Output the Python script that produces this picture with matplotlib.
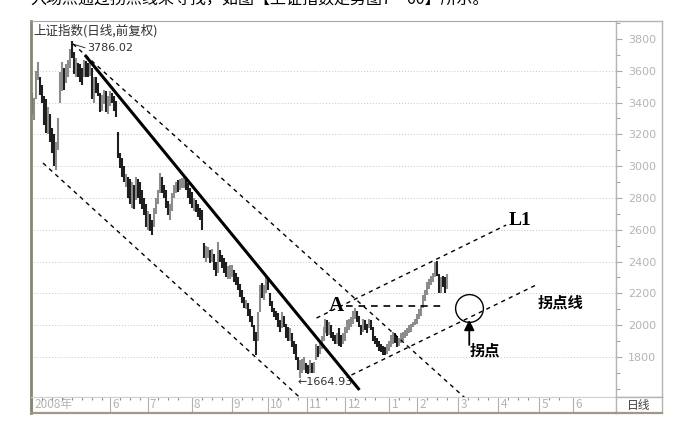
import numpy as np
import matplotlib
matplotlib.use("Agg")
import matplotlib.pyplot as plt
import matplotlib.transforms as mtransforms
from matplotlib.ticker import FixedLocator, MultipleLocator

# ---------------- data ----------------
# daily bars, trading-day index 0 = first bar of the chart (April 2008)
bar_high = [
    3460, 3430, 3600, 3655, 3560, 3510, 3440, 3420, 3370, 3330,
    3240, 3200, 3150, 3300, 3590, 3655, 3620, 3640, 3670, 3740,
    3786, 3720, 3680, 3650, 3640, 3620, 3670, 3660, 3650, 3660,
    3620, 3560, 3560, 3520, 3460, 3450, 3480, 3470, 3440, 3470,
    3460, 3440, 3410, 3215, 3080, 3050, 3000, 2950, 2930, 2920,
    2900, 2880, 2930, 2920, 2900, 2850, 2800, 2760, 2720, 2700,
    2660, 2740, 2800, 2850, 2955, 2930, 2880, 2850, 2780, 2760,
    2830, 2880, 2900, 2910, 2920, 2925, 2935, 2930, 2895, 2860,
    2840, 2800, 2790, 2760, 2740, 2725, 2520, 2500, 2490, 2470,
    2480, 2450, 2400, 2523, 2470, 2440, 2420, 2400, 2370, 2380,
    2380, 2350, 2330, 2300, 2260, 2220, 2180, 2160, 2140, 2100,
    2060, 2000, 1960, 2080, 2250, 2265, 2250, 2316, 2300, 2200,
    2150, 2110, 2090, 2075, 2030, 2080, 2060, 2010, 1990, 1980,
    1950, 1900, 1880, 1800, 1780, 1790, 1800, 1760, 1750, 1780,
    1760, 1770, 1880, 1870, 1890, 1930, 1990, 2040, 2030, 2020,
    2000, 1960, 1940, 1950, 1980, 1940, 1950, 1990, 2030, 2040,
    2050, 2090, 2108, 2090, 2060, 2000, 2040, 2030, 2010, 2040,
    2030, 1990, 1930, 1920, 1900, 1880, 1870, 1860, 1880, 1900,
    1940, 1960, 1950, 1930, 1920, 1950, 1960, 1970, 1980, 2000,
    2010, 2020, 2040, 2070, 2100, 2130, 2190, 2220, 2270, 2290,
    2310, 2330, 2400, 2402, 2320, 2300, 2310, 2300, 2320,
]
bar_low = [
    3330, 3290, 3420, 3545, 3450, 3400, 3260, 3210, 3200, 3150,
    3080, 3000, 2976, 3100, 3400, 3470, 3480, 3520, 3560, 3620,
    3680, 3580, 3560, 3560, 3530, 3510, 3560, 3560, 3560, 3570,
    3420, 3400, 3460, 3440, 3340, 3350, 3390, 3340, 3330, 3380,
    3400, 3350, 3310, 3050, 2990, 2930, 2900, 2870, 2800, 2760,
    2740, 2730, 2790, 2800, 2760, 2730, 2690, 2620, 2600, 2590,
    2567, 2620, 2700, 2760, 2830, 2830, 2800, 2740, 2690, 2660,
    2720, 2800, 2830, 2840, 2850, 2860, 2860, 2850, 2800, 2760,
    2740, 2720, 2710, 2680, 2660, 2600, 2420, 2400, 2420, 2390,
    2400, 2350, 2310, 2330, 2400, 2360, 2330, 2300, 2290, 2290,
    2300, 2270, 2250, 2220, 2180, 2140, 2110, 2100, 2060, 2020,
    1990, 1900, 1812, 1900, 2080, 2170, 2160, 2200, 2220, 2120,
    2080, 2050, 2030, 1990, 1960, 1980, 1990, 1920, 1900, 1900,
    1860, 1820, 1780, 1720, 1665, 1700, 1720, 1700, 1690, 1700,
    1700, 1700, 1780, 1800, 1820, 1850, 1900, 1950, 1930, 1940,
    1920, 1900, 1880, 1880, 1870, 1860, 1880, 1900, 1950, 1970,
    1990, 2010, 2040, 2020, 1990, 1940, 1960, 1970, 1950, 1980,
    1970, 1900, 1880, 1860, 1840, 1830, 1815, 1812, 1820, 1840,
    1860, 1880, 1890, 1860, 1870, 1890, 1900, 1920, 1930, 1950,
    1960, 1990, 2000, 2010, 2040, 2060, 2110, 2150, 2190, 2230,
    2250, 2270, 2300, 2310, 2200, 2200, 2240, 2200, 2230,
]
# u = rising day (grey bar), d = falling day (dark bar)
bar_dir = list(
    "duuuddddud" "dduuuuduuu" "dduddduddu" "duddduuduu" "dddddddudd"
    "ududddddud" "duuuuddddu" "uuuduuuddd" "duddddduud" "uddudddduu"
    "uddddddudd" "ddduuduudd" "dddddudddu" "dddduuuddu" "duuduuuudu"
    "dddudduuuu" "uuuddduddu" "dddddddduu" "uudduuuuuu" "uuuuuuuuuu"
    "uuudduddu"
)

price_ticks = [1800, 2000, 2200, 2400, 2600, 2800, 3000, 3200, 3400, 3600, 3800]
month_pos = [0, 39, 58, 80, 100, 118, 137.5, 157, 179, 193, 213.5, 233.5, 254, 271]
month_labels = ["2008年", "6", "7", "8", "9", "10", "11", "12", "1", "2", "3", "4", "5", "6"]

peak_point = (20, 3786.02)
low_point = (134, 1664.93)

# annotation lines drawn by the author: (index, price) end points
down_trend = [(26.5, 3699), (164, 1593)]
channel_upper = [(20.5, 3769), (218, 1530)]
channel_lower = [(5.5, 3020), (135.5, 1530)]
line_L1 = [(142.5, 2045), (237.5, 2630)]
turn_line = [(160, 1687), (252.5, 2253)]
level_A = [(157.5, 2121), (205, 2121)]
turn_point = (219, 2108)

# ---------------- figure ----------------
W, H = 674, 438
fig = plt.figure(figsize=(W / 100, H / 100), dpi=100)
fig.patch.set_facecolor("white")
cjk = ["Noto Sans CJK SC", "DejaVu Sans"]

def box(x0, y0, x1, y1):
    return [x0 / W, 1 - y1 / H, (x1 - x0) / W, (y1 - y0) / H]

ax = fig.add_axes(box(31, 21, 616, 397))
axr = fig.add_axes(box(616, 21, 662, 397))
axb = fig.add_axes(box(31, 397, 616, 413))
axd = fig.add_axes(box(616, 397, 662, 413))

XMIN, XMAX = -0.5, 292.5
YMIN, YMAX = 1548.5, 3913
ax.set_xlim(XMIN, XMAX)
ax.set_ylim(YMIN, YMAX)

# grid
for v in price_ticks:
    if v <= 3600:
        ax.axhline(v, color="#c4c4c4", lw=0.7, ls=(0, (1, 2)), zorder=0)

# bars
idx = np.arange(len(bar_high))
cols = ["#8c8c8c" if c == "u" else "#1e1e1e" for c in bar_dir]
ax.vlines(idx, bar_low, bar_high, colors=cols, lw=1.5, zorder=2)

# annotation lines
def seg(p, **kw):
    ax.plot([p[0][0], p[1][0]], [p[0][1], p[1][1]], clip_on=False, **kw)

seg(down_trend, color="black", lw=2.2, solid_capstyle="butt", zorder=4)
dash = dict(color="black", lw=1.0, ls=(0, (3, 3)), zorder=3)
seg(channel_upper, **dash)
seg(channel_lower, **dash)
seg(line_L1, **dash)
seg(turn_line, **dash)
seg(level_A, color="black", lw=1.2, ls=(0, (4, 3.5)), zorder=3)

ax.plot([turn_point[0]], [turn_point[1]], marker="o", ms=20, mfc="none",
        mec="black", mew=1.0, zorder=5)
ax.annotate("", xy=(turn_point[0], 2033), xytext=(turn_point[0], 1876),
            arrowprops=dict(arrowstyle="-|>,head_width=0.3,head_length=0.6",
                            color="black", lw=1.3, shrinkA=0, shrinkB=0))

ax.text(152.5, 2121, "A", family="Liberation Serif", weight="bold",
        fontsize=15, ha="center", va="center")
ax.text(238.5, 2660, "L1", family="Liberation Serif", weight="bold",
        fontsize=14, ha="left", va="center")
ax.text(253.5, 2140, "拐点线", family=cjk, weight="bold", fontsize=11,
        ha="left", va="center")
ax.text(219, 1838, "拐点", family=cjk, weight="bold", fontsize=11,
        ha="left", va="center")

# peak / low labels
ax.plot([peak_point[0] + 1, peak_point[0] + 6.5], [peak_point[1] - 20, 3745],
        color="#303030", lw=0.7)
ax.text(27.5, 3743, "3786.02", fontsize=8, color="#303030", ha="left", va="center")
ax.text(133, 1643, "←1664.93", fontsize=8, color="#303030", ha="left", va="center")

ax.text(0.004, 0.975, "上证指数(日线,前复权)", transform=ax.transAxes, family=cjk,
        fontsize=9, color="#303030", ha="left", va="center")

ax.set_xticks([])
ax.set_yticks([])
for s in ["top", "right", "bottom"]:
    ax.spines[s].set_color("#a8a8a8")
    ax.spines[s].set_linewidth(0.8)
ax.spines["bottom"].set_color("#d0d0d0")
ax.spines["left"].set_color("#8a8478")
ax.spines["left"].set_linewidth(2.0)

# right price panel
axr.set_ylim(YMIN, YMAX)
axr.set_xlim(0, 1)
axr.set_xticks([])
axr.yaxis.set_major_locator(FixedLocator(price_ticks))
axr.yaxis.set_minor_locator(MultipleLocator(100))
axr.tick_params(axis="y", which="major", direction="in", length=4.5, width=0.8,
                color="#a8a8a8", labelsize=8, labelcolor="#b4b4b4", pad=-29)
axr.tick_params(axis="y", which="minor", direction="in", length=3, width=0.8,
                color="#a8a8a8")
for s in axr.spines.values():
    s.set_color("#b4b4b4")
    s.set_linewidth(1.0)

# bottom date strip
axb.set_xlim(XMIN, XMAX)
axb.set_ylim(0, 1)
axb.set_yticks([])
axb.set_xticks(month_pos, month_labels)
minor = []
for a, b in zip(month_pos[:-1], month_pos[1:]):
    minor += list(np.arange(a + 5, b - 2, 5))
axb.xaxis.set_minor_locator(FixedLocator(minor))
axb.tick_params(axis="x", which="major", direction="in", length=11.5, width=0.8,
                color="#b0b0b0", labelsize=8.5, labelcolor="#b4b4b4", pad=-10.5)
axb.tick_params(axis="x", which="minor", direction="in", length=2.2, width=0.8,
                color="#909090", bottom=False, top=True)
off = mtransforms.ScaledTranslation(1.5 / 72, 0, fig.dpi_scale_trans)
for lab in axb.get_xticklabels():
    lab.set_ha("left")
    lab.set_family(cjk)
    lab.set_transform(lab.get_transform() + off)
for s in axb.spines.values():
    s.set_color("#d0d0d0")
    s.set_linewidth(0.8)
axb.spines["bottom"].set_color("#a09888")
axb.spines["bottom"].set_linewidth(1.6)
axb.spines["left"].set_color("#8a8478")
axb.spines["left"].set_linewidth(2.0)

# "日线" box
axd.set_xticks([])
axd.set_yticks([])
axd.text(0.5, 0.45, "日线", family=cjk, fontsize=8.5, color="#404040",
         ha="center", va="center", transform=axd.transAxes)
for s in axd.spines.values():
    s.set_color("#b4b4b4")
    s.set_linewidth(1.0)
axd.spines["bottom"].set_color("#a09888")
axd.spines["bottom"].set_linewidth(1.6)

# caption line cut off at the top of the image (as in the reference)
fig.text(30 / W, 1 + 1 / H, "入场点通过拐点线来寻找，如图【上证指数走势图7－60】所示。",
         family=cjk, fontsize=11.5, color="black", ha="left", va="center")

fig.savefig("out.png", dpi=100)
